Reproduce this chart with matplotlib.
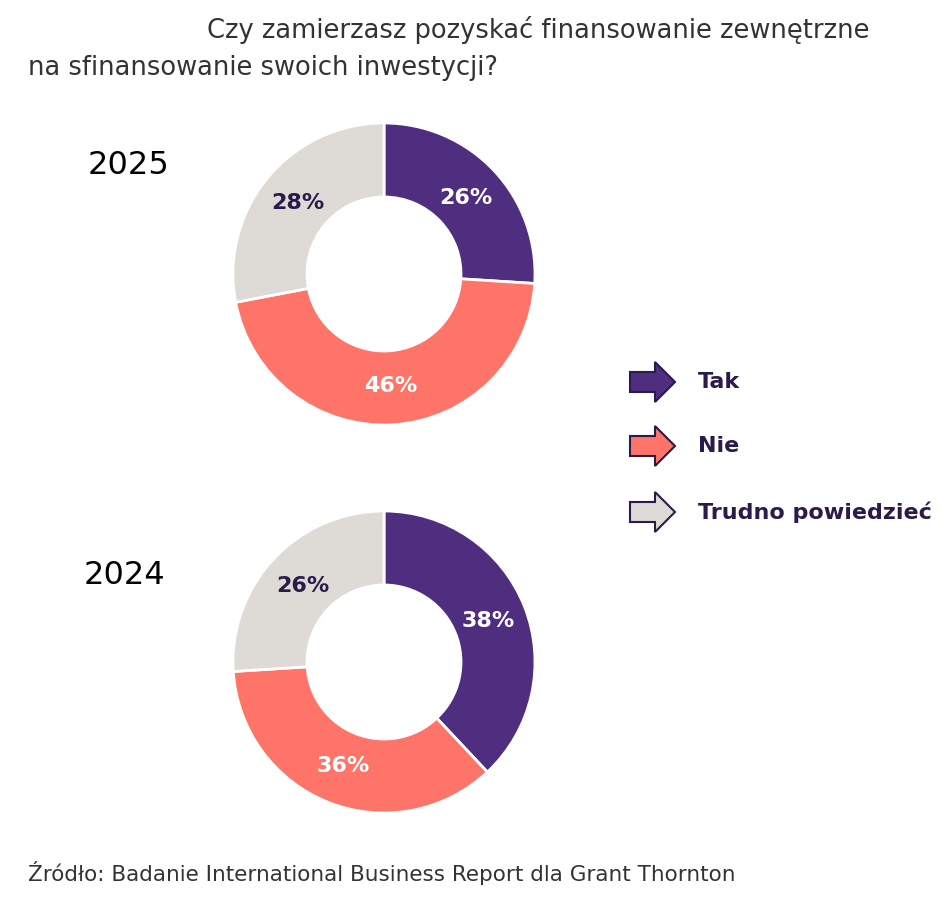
import numpy as np
import matplotlib.pyplot as plt
from matplotlib.patches import Polygon

categories = ["Tak", "Nie", "Trudno powiedzieć"]
years = ["2025", "2024"]
values = {"2025": [26, 46, 28], "2024": [38, 36, 26]}
colors = ["#4F2D7F", "#FF7468", "#DEDAD6"]
txtCol = ["white", "white", "#2B1B4A"]

W, H = 948, 915
fig = plt.figure(figsize=(W/100, H/100), dpi=100)
ax = fig.add_axes([0, 0, 1, 1])

dark = "#2B1B4A"

ax.text(870, H-30, "Czy zamierzasz pozyskać finansowanie zewnętrzne", ha="right", va="center", fontsize=18.5, color="#333333")
ax.text(28, H-68, "na sfinansowanie swoich inwestycji?", ha="left", va="center", fontsize=18.5, color="#333333")

centers = {"2025": (384, H-274), "2024": (384, H-662)}
yearPos = {"2025": (88, H-165), "2024": (84, H-575)}
R = 151
for yr in years:
	cx, cy = centers[yr]
	wedges, _, auto = ax.pie(values[yr], colors=colors, startangle=90, counterclock=False,
		radius=R, center=(cx, cy), autopct="%d%%", pctdistance=0.74,
		wedgeprops=dict(width=R-77, edgecolor="white", linewidth=2), frame=True)
	for t, c in zip(auto, txtCol):
		t.set_color(c)
		t.set_fontsize(16)
		t.set_fontweight("bold")
	ax.text(yearPos[yr][0], yearPos[yr][1], yr, fontsize=23, color="black", ha="left", va="center")
ax.set_xlim(0, W)
ax.set_ylim(0, H)
ax.set_aspect("equal")
ax.axis("off")

# legend arrows
legY = [H-382, H-446, H-512]
for i, cat in enumerate(categories):
	y = legY[i]
	x0 = 630
	pts = [(x0, y-10), (x0+25, y-10), (x0+25, y-20), (x0+45, y), (x0+25, y+20), (x0+25, y+10), (x0, y+10)]
	ax.add_patch(Polygon(pts, closed=True, facecolor=colors[i], edgecolor=dark, linewidth=1.5))
	ax.text(698, y, cat, fontsize=16, fontweight="bold", color=dark, ha="left", va="center")

ax.text(28, H-873, "Źródło: Badanie International Business Report dla Grant Thornton", fontsize=15.5, color="#333333", ha="left", va="center")

plt.savefig("out.png", dpi=100)
